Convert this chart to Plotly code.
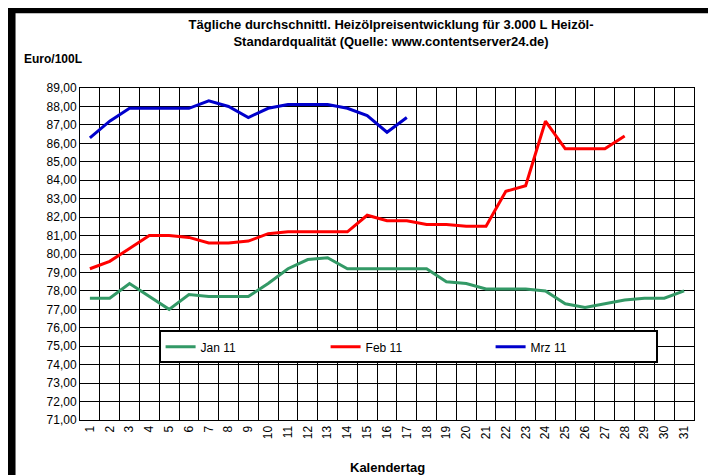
import plotly.graph_objects as go

days = list(range(1, 32))
jan = [77.6, 77.6, 78.4, 77.7, 77.0, 77.8, 77.7, 77.7, 77.7, 78.4, 79.2, 79.7, 79.8, 79.2, 79.2,
       79.2, 79.2, 79.2, 78.5, 78.4, 78.1, 78.1, 78.1, 78.0, 77.3, 77.1, 77.3, 77.5, 77.6, 77.6, 78.0]
feb = [79.2, 79.6, 80.3, 81.0, 81.0, 80.9, 80.6, 80.6, 80.7, 81.1, 81.2, 81.2, 81.2, 81.2, 82.1,
       81.8, 81.8, 81.6, 81.6, 81.5, 81.5, 83.4, 83.7, 87.2, 85.7, 85.7, 85.7, 86.4]
mrz = [86.3, 87.2, 87.9, 87.9, 87.9, 87.9, 88.3, 88.0, 87.4, 87.9, 88.1, 88.1, 88.1, 87.9, 87.5,
       86.6, 87.4]
yticks = list(range(71, 90))
ylabels = [f"{v},00" for v in yticks]

fig = go.Figure()
for name, vals, col in [("Jan 11", jan, "#339966"), ("Feb 11", feb, "#FF0000"), ("Mrz 11", mrz, "#0000CC")]:
    fig.add_trace(go.Scatter(x=days[:len(vals)], y=vals, mode="lines", name=name,
                             line=dict(color=col, width=3)))

# white card on black background
fig.add_shape(type="rect", xref="paper", yref="paper", x0=-0.105, x1=1.045, y0=-0.175, y1=1.225,
              fillcolor="white", line=dict(width=0), layer="below")

fig.add_annotation(text="<b>Euro/100L</b>", xref="paper", yref="paper", x=-0.095, y=1.115,
                   xanchor="left", showarrow=False, font=dict(size=12, color="black"))
fig.add_annotation(text="<b>Kalendertag</b>", xref="paper", yref="paper", x=0.5, y=-0.115,
                   yanchor="top", showarrow=False, font=dict(size=13, color="black"))

fig.update_layout(
    width=716, height=475,
    margin=dict(l=72, r=30, t=80, b=63, autoexpand=False),
    paper_bgcolor="black",
    plot_bgcolor="#FFFFC0",
    font=dict(family="Liberation Sans", color="black", size=12),
    title=dict(text="<b>Tägliche durchschnittl. Heizölpreisentwicklung für 3.000 L Heizöl-<br>Standardqualität (Quelle: www.contentserver24.de)</b>",
               x=0.535, xanchor="center", y=0.955, yanchor="top", font=dict(size=13)),
    showlegend=True,
    legend=dict(orientation="h", x=0.128, y=0.27, xanchor="left", yanchor="top",
                bgcolor="white", bordercolor="black", borderwidth=2,
                font=dict(size=12), entrywidth=120),
)
fig.update_xaxes(range=[0.5, 31.5], tickvals=days, tickangle=-90, showgrid=False,
                 tickfont=dict(size=12), ticks="", showline=True, linecolor="black",
                 tickprefix="<b>", ticksuffix="</b>", automargin=False,
                 minor=dict(tick0=0.5, dtick=1, showgrid=True, gridcolor="black", gridwidth=1),
                 mirror=True)
fig.update_yaxes(range=[71, 89], tickvals=yticks, ticktext=ylabels, showgrid=True,
                 gridcolor="black", gridwidth=1, tickfont=dict(size=12), showline=True,
                 linecolor="black", mirror=True, zeroline=False, automargin=False)
fig.write_html("out.html")
